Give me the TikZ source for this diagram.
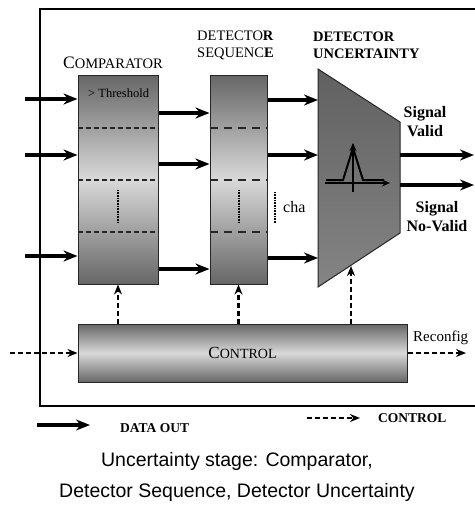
\documentclass[tikz,border=0pt]{standalone}
\usepackage{fontspec}
\setmainfont{Liberation Serif}
\newfontfamily\captionfont{Liberation Sans}
\usetikzlibrary{arrows.meta}
\usetikzlibrary{positioning}

% fake small caps: big first letter, smaller rest
\newcommand{\bigsmall}[4]{{\fontsize{#1}{#1}\selectfont #3}{\fontsize{#2}{#2}\selectfont #4}}

\begin{document}
\begin{tikzpicture}[x=1pt,y=-1pt,
    block/.style={draw=black!85,line width=1pt,top color=black!60,bottom color=black!60,middle color=black!15,inner sep=0pt},
    data/.style={-{Stealth[length=14pt,width=11pt]},line width=3.4pt},
    ctrl/.style={-{Stealth[length=10pt,width=8pt]},line width=2.6pt,dash pattern=on 5pt off 3pt},
    sepshort/.style={line width=1.6pt,dash pattern=on 5pt off 3pt,black!85},
    seplong/.style={line width=1.6pt,dash pattern=on 8pt off 6pt,black!85},
    dots/.style={line width=2pt,dash pattern=on 1pt off 0.6pt},
    title/.style={font=\fontsize{14.5}{17}\selectfont,align=left,inner sep=0pt},
    lbl/.style={font=\fontsize{16}{19}\selectfont,inner sep=0pt}]

    \useasboundingbox (0,0) rectangle (474,506);

    % outer frame (open on the right)
    \draw [line width=1.6pt] (480,9) -- (40,9) -- (40,406) -- (480,406);

    % blocks
    \node [block,minimum width=80pt,minimum height=209pt] (comp) at (118,179.5) {};
    \node [block,minimum width=57pt,minimum height=209pt] (dseq) at (238.5,179.5) {};
    \node [block,minimum width=329pt,minimum height=58pt] (ctrl) at (242.5,353) {};

    % detector uncertainty (trapezoid)
    \coordinate (du-nw) at (318,69);
    \coordinate (du-ne) at (400,122);
    \coordinate (du-se) at (400,233);
    \coordinate (du-sw) at (318,287);
    \shade [top color=black!62,middle color=black!15,bottom color=black!48]
        (du-nw) -- (du-ne) -- (du-se) -- (du-sw) -- cycle;
    \draw [black!85,line width=1pt] (du-nw) -- (du-ne) -- (du-se) -- (du-sw) -- cycle;

    % separators
    \foreach \y in {128,180,232} {
        \draw [sepshort] (comp.west |- 0,\y) -- (comp.east |- 0,\y);
        \draw [seplong] (dseq.west |- 0,\y) -- (dseq.east |- 0,\y);
    }
    \draw [dots] (118,190) -- (118,223);
    \draw [dots,line width=2.8pt] (239,190) -- (239,223);
    \draw [dots,line width=2.6pt] (275,192) -- (275,223);

    % titles
    \node [title,anchor=west] (comp-t) at (63,63) {\bigsmall{17.5}{14.5}{C}{OMPARATOR}};
    \node [title,anchor=west] (dseq-t) at (197,45) {DETECTO\textbf{R}\\SEQUENC\textbf{E}};
    \node [title,anchor=west,font=\fontsize{14.5}{17}\selectfont\bfseries] (du-t) at (313,45) {DETECTOR\\UNCERTAINTY};
    \node [anchor=west,inner sep=0pt,font=\fontsize{12.5}{14}\selectfont] (thr) at (88,93) {> Threshold};
    \node [lbl,anchor=west] (cha) at (283,207) {cha};
    \node [inner sep=0pt] (ctrl-t) at (ctrl) {\bigsmall{17}{14}{C}{ONTROL}};

    % peak symbol
    \draw [line width=2pt] (326,180) -- (343,180) -- (353,148) -- (363,180) -- (384,180);
    \draw [-{Stealth[length=8pt,width=7pt]},line width=2.6pt] (325,183) -- (390,183);
    \draw [-{Stealth[length=8pt,width=7pt]},line width=2.6pt] (353,192) -- (353,143);

    % data arrows
    \foreach \y in {99,155,256}
        \draw [data] (25,\y) -- (comp.west |- 0,\y);
    \foreach \y in {113,164,269}
        \draw [data] (comp.east |- 0,\y) -- (dseq.west |- 0,\y);
    \foreach \y in {100,155,258}
        \draw [data] (dseq.east |- 0,\y) -- (318,\y);
    \foreach \y in {155,185}
        \draw [data] (400,\y) -- (474,\y);

    % outputs
    \node [lbl,font=\fontsize{16}{19}\selectfont\bfseries,align=center] (valid) at (425,122) {Signal\\Valid};
    \node [lbl,font=\fontsize{16}{19}\selectfont\bfseries,align=center] (novalid) at (437,217) {Signal\\No-Valid};

    % control arrows
    \coordinate (du-in) at (351,266);
    \draw [ctrl] (ctrl.north -| comp) -- (comp.south);
    \draw [ctrl] (ctrl.north -| dseq) -- (dseq.south);
    \draw [ctrl] (ctrl.north -| du-in) -- (du-in);
    \coordinate (c-in) at (10,353);
    \coordinate (c-out) at (466,353);
    \draw [ctrl] (c-in) -- (ctrl.west);
    \draw [ctrl] (ctrl.east) -- (c-out);
    \node [lbl,anchor=west,font=\fontsize{15}{18}\selectfont] (reconf) at (413,338) {Reconfig};

    % legend
    \coordinate (lg-a) at (37,425);
    \coordinate (lg-b) at (90,425);
    \coordinate (lg-c) at (307,418);
    \coordinate (lg-d) at (360,418);
    \draw [data] (lg-a) -- (lg-b);
    \draw [ctrl] (lg-c) -- (lg-d);
    \node [anchor=west,inner sep=0pt,font=\fontsize{13.5}{16}\selectfont\bfseries] (lg-data) at (120,428) {DATA OUT};
    \node [anchor=west,inner sep=0pt,font=\fontsize{13.5}{16}\selectfont\bfseries] (lg-ctrl) at (378,418) {CONTROL};

    % caption
    \node [font=\captionfont\fontsize{19.5}{31}\selectfont,align=center] (cap) at (237,477) {Uncertainty stage: Comparator,\\Detector Sequence, Detector Uncertainty};

\end{tikzpicture}
\end{document}
